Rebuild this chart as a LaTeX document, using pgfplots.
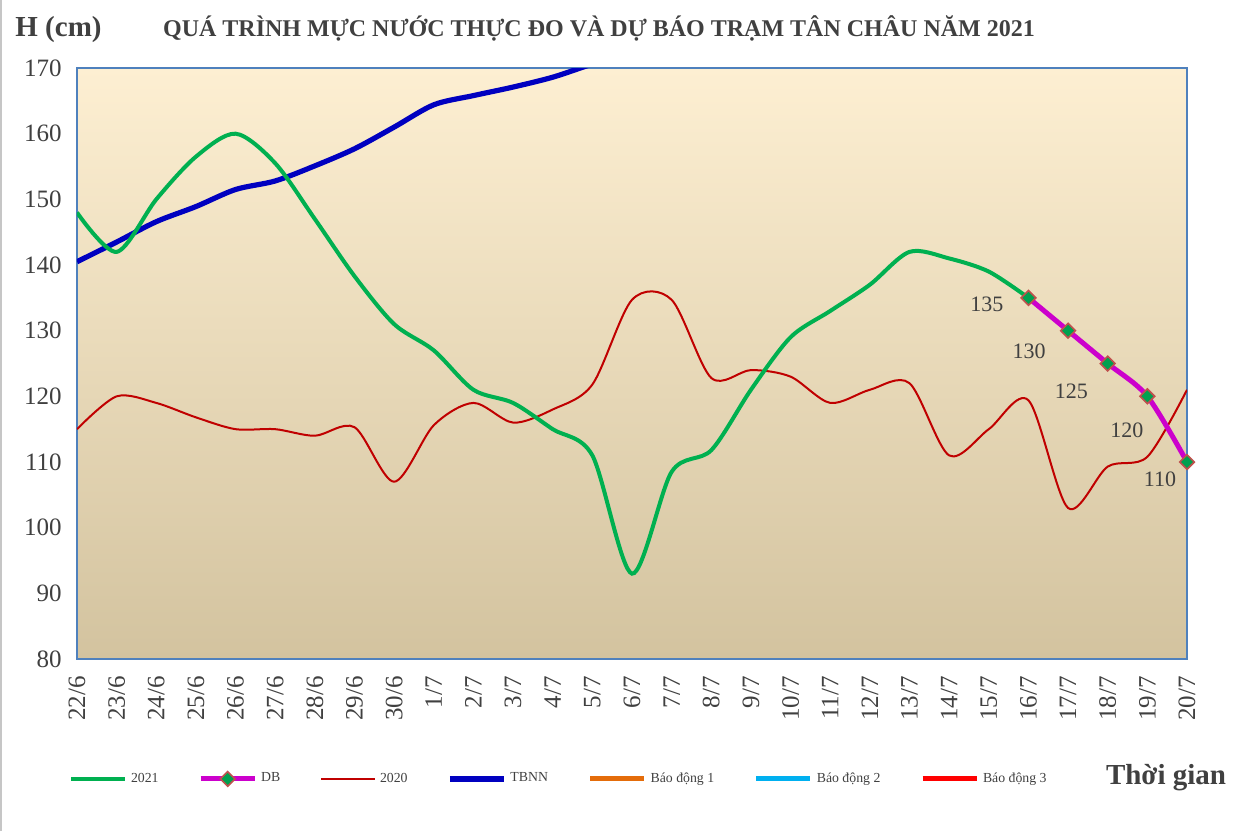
\documentclass[border=0pt]{standalone}
\usepackage{fontspec}
\setmainfont{Liberation Serif}
\usepackage{pgfplots}
\pgfplotsset{compat=1.18}
\definecolor{txt}{HTML}{404040}
\definecolor{axisblue}{HTML}{4F81BD}
\definecolor{bgtop}{HTML}{FDEFD2}
\definecolor{bgmid}{HTML}{F1EAD6}
\definecolor{bgbot}{HTML}{D3C39F}
\definecolor{c2021}{HTML}{00B050}
\definecolor{cdb}{HTML}{CC00CC}
\definecolor{c2020}{HTML}{C00000}
\definecolor{ctbnn}{HTML}{0000C0}
\definecolor{cbd1}{HTML}{E46C0A}
\definecolor{cbd2}{HTML}{00B0F0}
\definecolor{cbd3}{HTML}{FF0000}
\definecolor{mkfill}{HTML}{00A050}
\definecolor{mkdraw}{HTML}{C0504D}
\begin{document}
\begin{tikzpicture}
\begin{axis}[
  name=ax, at={(0,0)}, anchor=south west,
  scale only axis, width=555pt, height=295.5pt,
  xmin=0, xmax=28, ymin=80, ymax=170,
  xtick={0,...,28},
  xticklabels={22/6,23/6,24/6,25/6,26/6,27/6,28/6,29/6,30/6,1/7,2/7,3/7,4/7,5/7,6/7,7/7,8/7,9/7,10/7,11/7,12/7,13/7,14/7,15/7,16/7,17/7,18/7,19/7,20/7},
  ytick={80,90,...,170},
  tick style={draw=none},
  axis line style={draw=axisblue, line width=0.75pt},
  axis background/.style={shade, top color=bgtop, middle color=bgmid, bottom color=bgbot},
  tick label style={font=\fontsize{12.5}{14}\selectfont, text=txt},
  xticklabel style={rotate=90, anchor=east, inner sep=0pt},
  xticklabel shift=8.5pt,
  yticklabel style={anchor=east, inner sep=0pt},
  yticklabel shift=7.5pt,
  /pgf/number format/assume math mode=true,
  clip mode=individual,
  legend style={at={(rel axis cs:0.435,-0.203)}, anchor=center, draw=none, fill=none,
    font=\fontsize{6.9}{8}\selectfont, text=txt,
    nodes={inner xsep=2pt},
    /tikz/every even column/.append style={column sep=17.8pt}},
  legend columns=-1,
  legend image code/.code={\draw[mark repeat=2,mark phase=2,#1] plot coordinates {(0pt,0pt)(13.5pt,0pt)(27pt,0pt)};},
]
\addplot[c2020, line width=1pt, smooth, tension=0.5, forget plot] coordinates {
(0,115)(1,120)(2,119)(3,116.8)(4,115)(5,115)(6,114)(7,115.3)(8,107)(9,115.6)(10,119)(11,116)(12,118)(13,121.8)(14,134.7)(15,134.7)(16,122.8)(17,124)(18,123)(19,119)(20,121)(21,122)(22,111)(23,115)(24,119.4)(25,103)(26,109.3)(27,110.8)(28,121)};
\addplot[ctbnn, line width=2.6pt, smooth, tension=0.5, forget plot] coordinates {
(0,140.5)(1,143.5)(2,146.6)(3,148.9)(4,151.5)(5,152.8)(6,155.1)(7,157.7)(8,161)(9,164.4)(10,165.8)(11,167.1)(12,168.6)(13,170.6)(14,172.3)};
\addplot[c2021, line width=2pt, smooth, tension=0.5] coordinates {
(0,148)(1,142)(2,150)(3,156.5)(4,160)(5,155.5)(6,147)(7,138.3)(8,131)(9,127)(10,121)(11,119)(12,115)(13,111)(14,93)(15,108.5)(16,111.8)(17,121)(18,129)(19,133)(20,137)(21,142)(22,141)(23,139)(24,135)};
\addlegendentry{2021}
\addplot[cdb, line width=2.5pt, smooth, tension=0.5, mark=square*, mark size=2.6pt,
  mark options={rotate=45, fill=mkfill, draw=mkdraw, line width=0.8pt}] coordinates {
(24,135)(25,130)(26,125)(27,120)(28,110)};
\addlegendentry{DB}
\addlegendimage{c2020, line width=1pt}
\addlegendentry{2020}
\addlegendimage{ctbnn, line width=2.6pt}
\addlegendentry{TBNN}
\addlegendimage{cbd1, line width=2.5pt}
\addlegendentry{Báo động 1}
\addlegendimage{cbd2, line width=2.5pt}
\addlegendentry{Báo động 2}
\addlegendimage{cbd3, line width=2.5pt}
\addlegendentry{Báo động 3}
\node[font=\fontsize{11}{13}\selectfont, text=txt] at (axis cs:22.95,134.0) {135};
\node[font=\fontsize{11}{13}\selectfont, text=txt] at (axis cs:24.02,126.8) {130};
\node[font=\fontsize{11}{13}\selectfont, text=txt] at (axis cs:25.08,120.7) {125};
\node[font=\fontsize{11}{13}\selectfont, text=txt] at (axis cs:26.48,114.8) {120};
\node[font=\fontsize{11}{13}\selectfont, text=txt] at (axis cs:27.32,107.4) {110};
\end{axis}
\node[font=\bfseries\fontsize{12}{14}\selectfont, text=txt] at (261pt,315.5pt) {QUÁ TRÌNH MỰC NƯỚC THỰC ĐO VÀ DỰ BÁO TRẠM TÂN CHÂU NĂM 2021};
\node[font=\bfseries\fontsize{14.5}{17}\selectfont, text=txt] at (-9.25pt,314.5pt) {H (cm)};
\node[font=\bfseries\fontsize{14.5}{17}\selectfont, text=txt] at (544.5pt,-59.5pt) {Thời gian};
\draw[gray!45, line width=1pt] (-38pt,-86pt) -- (-38pt,329.5pt);
\pgfresetboundingbox
\path[use as bounding box] (-38.5pt,-86pt) rectangle (579pt,329.5pt);
\end{tikzpicture}
\end{document}
